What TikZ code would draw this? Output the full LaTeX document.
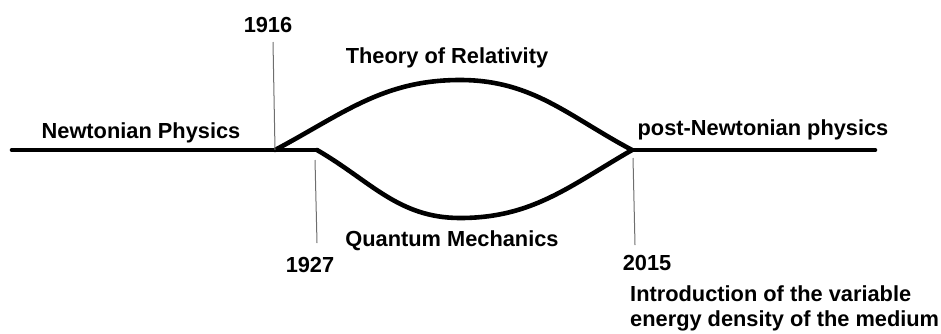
\documentclass[tikz,border=0pt]{standalone}
\usepackage{fontspec}
\setmainfont{Liberation Sans}
\usetikzlibrary{positioning}
\definecolor{path-color}{HTML}{000000}
\definecolor{tick-color}{HTML}{6E6E6E}
\tikzset{
  era-label/.style={
    font=\bfseries\fontsize{21.8}{25}\selectfont, inner sep=0pt, align=left
  },
  theory-path/.style={line width=4.6pt, draw=path-color, line cap=round, line join=miter},
  year-tick/.style={line width=1pt, draw=tick-color}
}

\begin{document}
\begin{tikzpicture}[x=1pt, y=-1pt]
  \useasboundingbox (0,0) rectangle (941,333);

  \coordinate (start)    at (12, 150);
  \coordinate (split)    at (275, 150);
  \coordinate (qmstart)  at (317, 150);
  \coordinate (srtop)    at (460, 80);
  \coordinate (qmbottom) at (460, 218);
  \coordinate (merge)    at (632, 150);
  \coordinate (finish)   at (875, 150);

  \node[era-label] (newton)     at (141, 133) {Newtonian Physics};
  \node[era-label] (relativity) at (447, 58)  {Theory of Relativity};
  \node[era-label] (quantum)    at (452, 241) {Quantum Mechanics};
  \node[era-label] (postnewton) at (763, 130) {post-Newtonian physics};
  \node[era-label] (y1916)      at (268, 25)  {1916};
  \node[era-label] (y1927)      at (310, 265) {1927};
  \node[era-label] (y2015)      at (647, 263) {2015};
  \node[era-label, anchor=north west] (medium) at (630, 285)
    {Introduction of the variable\\energy density of the medium};

  \draw[theory-path] (start) -- (split) -- (qmstart);
  \draw[theory-path] (split) to[out=28, in=180] (srtop) to[out=0, in=152] (merge);
  \draw[theory-path] (qmstart) to[out=-30, in=180] (qmbottom) to[out=0, in=-150] (merge);
  \draw[theory-path] (merge) -- (finish);

  \draw[year-tick] (273, 42) -- (split);
  \draw[year-tick] (315, 160) -- (317, 243);
  \draw[year-tick] (633, 158) -- (635, 245);
\end{tikzpicture}
\end{document}
